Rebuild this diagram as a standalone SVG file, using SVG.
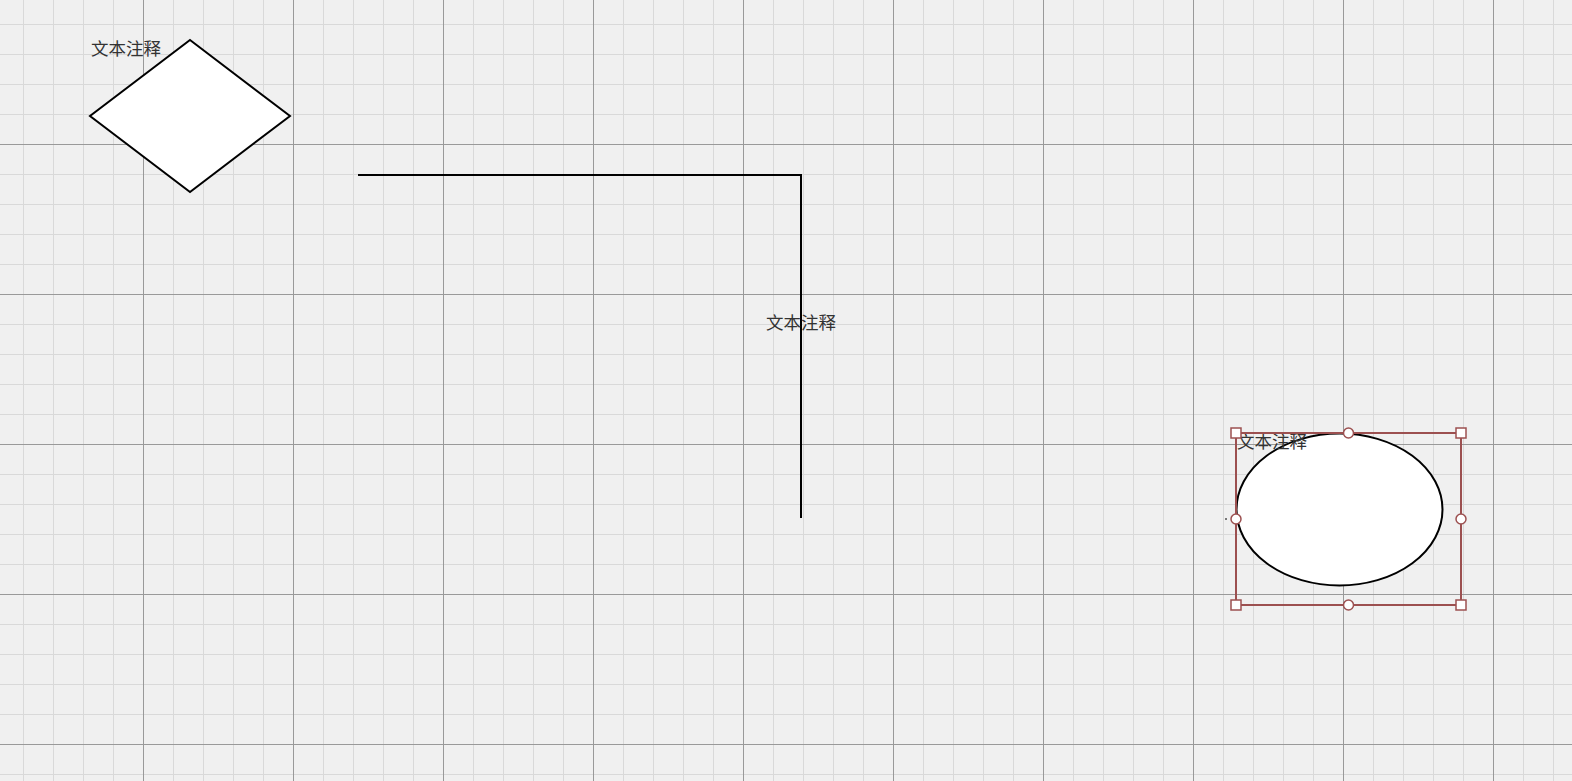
<svg xmlns="http://www.w3.org/2000/svg" width="1572" height="781" viewBox="0 0 1572 781">
<defs>
<pattern id="minor" x="23" y="24" width="30" height="30" patternUnits="userSpaceOnUse">
<path d="M0.5 0V30M0 0.5H30" fill="none" stroke="#d9d9d9" stroke-width="1"/>
</pattern>
<pattern id="major" x="143" y="144" width="150" height="150" patternUnits="userSpaceOnUse">
<path d="M0.5 0V150M0 0.5H150" fill="none" stroke="#999999" stroke-width="1"/>
</pattern>
</defs>
<style>
.label{font-family:"Noto Sans CJK SC","Liberation Serif",serif;font-size:17.5px;fill:#333333}
.shape{fill:#ffffff;stroke:#000000;stroke-width:2}
.sel{fill:none;stroke:#9c5050;stroke-width:2}
.handle{fill:#ffffff;stroke:#9c5050;stroke-width:1.5}
</style>
<rect width="1572" height="781" fill="#f0f0f0"/>
<rect width="1572" height="781" fill="url(#minor)"/>
<rect width="1572" height="781" fill="url(#major)"/>
<g id="node-diamond">
<polygon class="shape" points="190,40 290,116 190,192 90,116"/>
<text class="label" x="91" y="55">文本注释</text>
</g>
<g id="connectors">
<polyline points="358,175 801,175 801,518" fill="none" stroke="#000000" stroke-width="2"/>
<text class="label" x="801" y="329" text-anchor="middle">文本注释</text>
</g>
<g id="node-ellipse">
<ellipse class="shape" cx="1339.5" cy="509.5" rx="103" ry="76"/>
<text class="label" x="1237" y="448">文本注释</text>
<rect class="sel" x="1236" y="433" width="225" height="172"/>
<rect class="handle" x="1231" y="428" width="10" height="10"/>
<rect class="handle" x="1456" y="428" width="10" height="10"/>
<rect class="handle" x="1231" y="600" width="10" height="10"/>
<rect class="handle" x="1456" y="600" width="10" height="10"/>
<circle class="handle" cx="1348.5" cy="433" r="5"/>
<circle class="handle" cx="1348.5" cy="605" r="5"/>
<circle class="handle" cx="1236" cy="519" r="5"/>
<circle class="handle" cx="1461" cy="519" r="5"/>
<rect x="1225" y="518.5" width="2" height="1" fill="#000000"/>
</g>
</svg>
